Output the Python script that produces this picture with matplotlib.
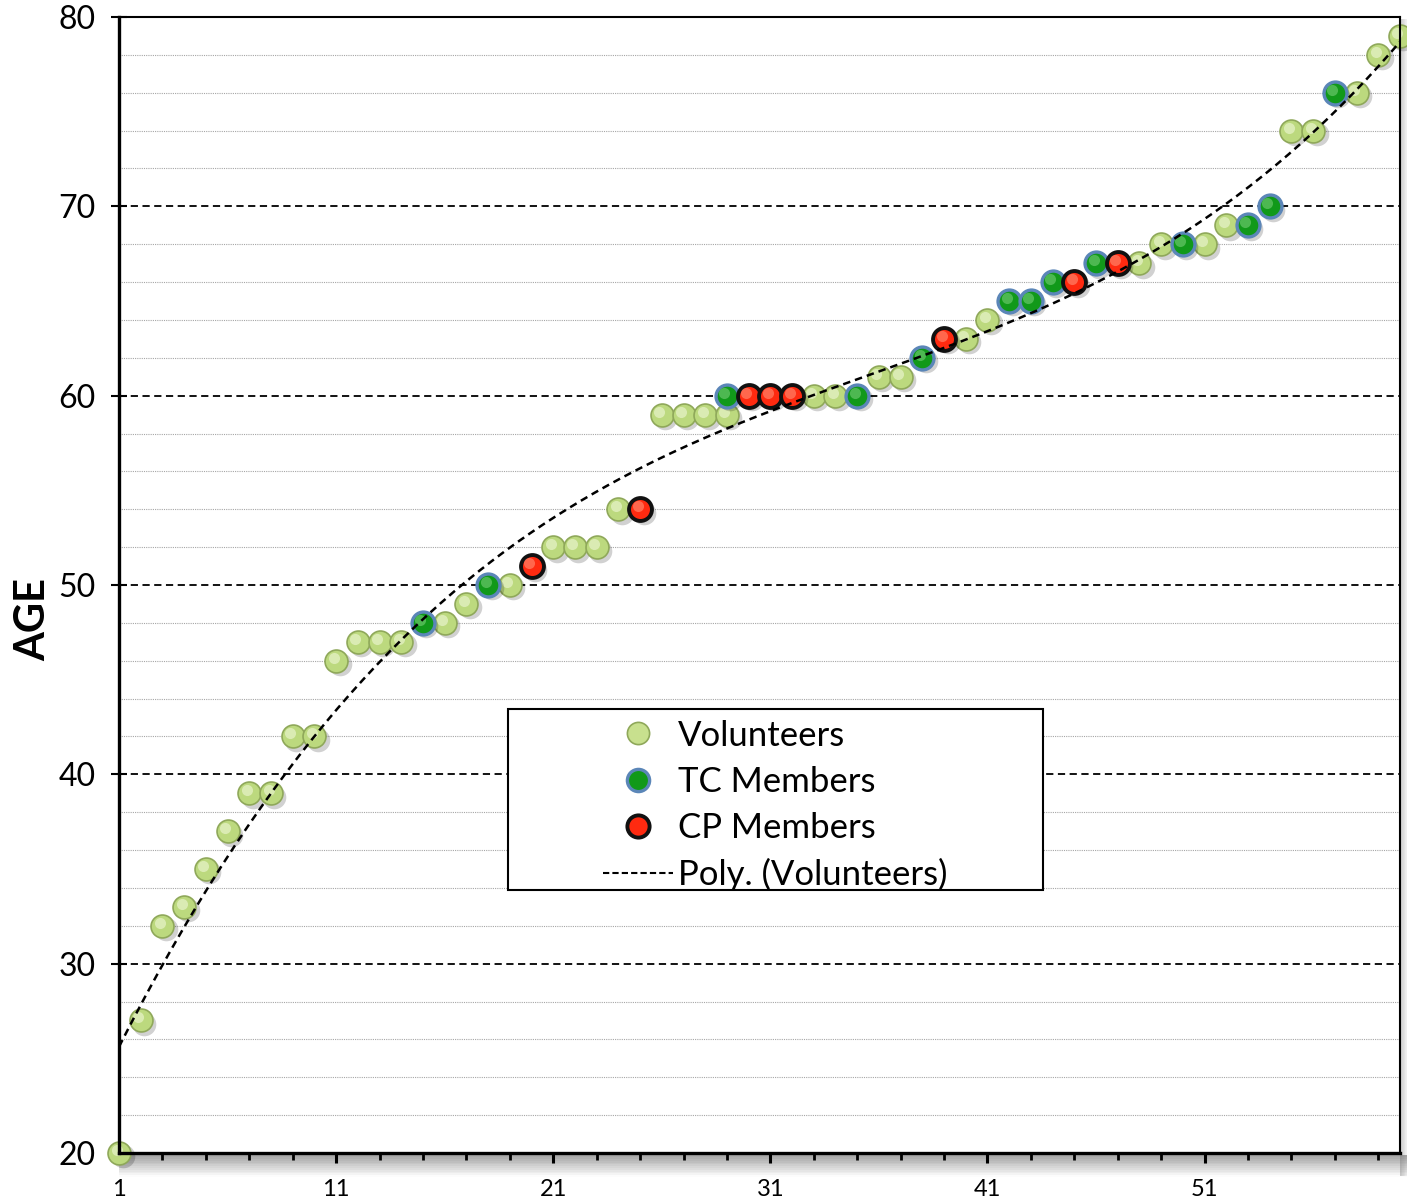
import numpy as np
import matplotlib.pyplot as plt
import matplotlib.transforms as mtransforms
from matplotlib.patches import Rectangle
from matplotlib.lines import Line2D

plt.rcParams['font.family'] = ['Lato', 'DejaVu Sans']

# data (index = position in the age-sorted list)
vol_x = [1, 2, 3, 4, 5, 6, 7, 8, 9, 10, 11, 12, 13, 14, 16, 17, 19, 21, 22, 23,
         24, 26, 27, 28, 29, 33, 34, 36, 37, 40, 41, 48, 49, 51, 52, 55, 56, 58, 59, 60]
vol_age = [20, 27, 32, 33, 35, 37, 39, 39, 42, 42, 46, 47, 47, 47, 48, 49, 50, 52, 52, 52,
           54, 59, 59, 59, 59, 60, 60, 61, 61, 63, 64, 67, 68, 68, 69, 74, 74, 76, 78, 79]
tc_x = [15, 18, 29, 35, 38, 42, 43, 44, 46, 50, 53, 54, 57]
tc_age = [48, 50, 60, 60, 62, 65, 65, 66, 67, 68, 69, 70, 76]
cp_x = [20, 25, 30, 31, 32, 39, 45, 47]
cp_age = [51, 54, 60, 60, 60, 63, 66, 67]

fig = plt.figure(figsize=(14.07, 11.99), dpi=100)
ax = fig.add_axes([0.0846, 0.0384, 0.9104, 0.9474])
ax.set_xlim(1, 60)
ax.set_ylim(20, 80)

# grid lines
for y in range(22, 80, 2):
    if y % 10 == 0:
        ax.axhline(y, color='black', lw=1.3, ls=(0, (4, 2.5)), zorder=1)
    else:
        ax.axhline(y, color='#a6a6a6', lw=0.8, ls=(0, (1, 1)), zorder=1)

# cubic trendline, fitted over every person in the list
all_x = np.array(vol_x + tc_x + cp_x, dtype=float)
all_y = np.array(vol_age + tc_age + cp_age, dtype=float)
coef = np.polyfit(all_x, all_y, 3)
tx = np.linspace(1, 60, 300)
ax.plot(tx, np.polyval(coef, tx), color='black', lw=1.8, ls=(0, (3, 2)), zorder=6)


def glossy(x, y, face, edge, light, ew, z):
    shadow = mtransforms.offset_copy(ax.transData, fig=fig, x=2.5, y=-2.5, units='points')
    hi = mtransforms.offset_copy(ax.transData, fig=fig, x=-1.8, y=2.2, units='points')
    ax.plot(x, y, 'o', ms=17, color='#000000', alpha=0.18, mec='none',
            transform=shadow, zorder=z, clip_on=False)
    ax.plot(x, y, 'o', ms=16.5, mfc=face, mec=edge, mew=ew, zorder=z + 0.1, clip_on=False)
    ax.plot(x, y, 'o', ms=8, mfc=light, mec='none', alpha=0.55,
            transform=hi, zorder=z + 0.2, clip_on=False)


glossy(vol_x, vol_age, '#bcd97e', '#8fa85a', '#f4fadf', 1.2, 3)
glossy(tc_x, tc_age, '#11991a', '#5b86b8', '#7fd37f', 2.4, 4)
glossy(cp_x, cp_age, '#ff2a10', '#111111', '#ff9a80', 2.8, 5)

# axes styling
for side in ['left', 'bottom']:
    ax.spines[side].set_linewidth(2.4)
for side in ['top', 'right']:
    ax.spines[side].set_linewidth(1.5)
for s in ax.spines.values():
    s.set_zorder(7)

ax.set_xticks([1, 11, 21, 31, 41, 51])
ax.set_xticks(list(range(3, 60, 2)), minor=True)
ax.tick_params(axis='x', which='major', direction='out', length=7, width=2.2,
               labelsize=17, pad=12)
ax.tick_params(axis='x', which='minor', direction='out', length=5, width=2)
ax.set_yticks(range(20, 81, 10))
ax.tick_params(axis='y', direction='inout', length=12, width=1.5, labelsize=23, pad=11)
ax.set_ylabel('AGE', fontsize=30, fontweight='bold')
ax.yaxis.set_label_coords(-0.052, 0.47)

# shadow under x axis and beside right edge
for i, a in enumerate(np.linspace(0.6, 0.02, 12)):
    ax.add_patch(Rectangle((0, -0.002 - 0.0016 * (i + 1)), 1.006, 0.0016,
                           transform=ax.transAxes, color='#6e6e6e', alpha=a,
                           lw=0, clip_on=False, zorder=0))
    ax.add_patch(Rectangle((1.0 + 0.0006 * i, -0.02), 0.0006, 1.018,
                           transform=ax.transAxes, color='#6e6e6e', alpha=a * 0.6,
                           lw=0, clip_on=False, zorder=0))

# legend box
bx, by, bw, bh = 0.3037, 0.2315, 0.4176, 0.1593
ax.add_patch(Rectangle((bx, by), bw, bh, transform=ax.transAxes, facecolor='white',
                       edgecolor='black', lw=1.5, zorder=8))
handles = [
    Line2D([], [], ls='none', marker='o', ms=16, mfc='#c8e08e', mec='#8fa85a', mew=1.2),
    Line2D([], [], ls='none', marker='o', ms=16, mfc='#11991a', mec='#5b86b8', mew=2.4),
    Line2D([], [], ls='none', marker='o', ms=16, mfc='#ff2a10', mec='#111111', mew=2.8),
    Line2D([], [], color='black', lw=1.5, ls=(0, (3, 1.5))),
]
labels = ['Volunteers', 'TC Members', 'CP Members', 'Poly. (Volunteers)']
leg = ax.legend(handles, labels, loc='center',
                bbox_to_anchor=(bx + bw / 2, by + bh / 2 - 0.0053),
                frameon=False, fontsize=25, handlelength=2.0, handletextpad=0.15,
                labelspacing=0.41, borderpad=0)
leg.set_zorder(9)

fig.savefig('out.png', dpi=100)
